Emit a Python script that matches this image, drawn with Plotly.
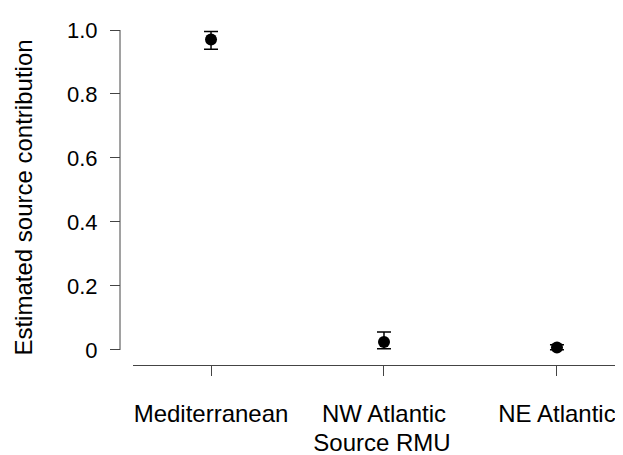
import plotly.graph_objects as go

categories = ["Mediterranean", "NW Atlantic", "NE Atlantic"]
x_pos = [0, 1, 2]
estimates = [0.970, 0.025, 0.008]
upper = [0.995, 0.056, 0.016]
lower = [0.940, 0.004, 0.001]
y_tick_vals = [0, 0.2, 0.4, 0.6, 0.8, 1.0]
y_tick_text = ["0", "0.2", "0.4", "0.6", "0.8", "1.0"]

err_plus = [u - e for u, e in zip(upper, estimates)]
err_minus = [e - l for e, l in zip(estimates, lower)]

FONT = "Liberation Sans, Arial, sans-serif"

fig = go.Figure()
fig.add_trace(go.Scatter(
    x=x_pos, y=estimates, mode="markers",
    marker=dict(color="black", size=12),
    error_y=dict(type="data", symmetric=False, array=err_plus, arrayminus=err_minus,
                 color="black", thickness=1.5, width=7),
    showlegend=False,
))

fig.update_layout(
    width=623, height=455,
    margin=dict(l=112, r=0, t=22, b=98),
    plot_bgcolor="white", paper_bgcolor="white",
    font=dict(family=FONT, color="black", size=22),
    xaxis=dict(
        domain=[13 / 511, 1], range=[-0.451, 2.428],
        tickvals=x_pos, ticktext=categories,
        showline=True, linecolor="#444", linewidth=1,
        ticks="outside", ticklen=10, tickcolor="#444", tickwidth=1,
        showgrid=False, zeroline=False,
        tickfont=dict(size=24), ticklabelstandoff=17,
        title=dict(text="Source RMU", font=dict(size=24), standoff=8),
    ),
    yaxis=dict(
        anchor="free", position=0, range=[-0.047, 1.0],
        tickvals=y_tick_vals, ticktext=y_tick_text,
        showline=False,
        ticks="outside", ticklen=10, tickcolor="#444", tickwidth=1,
        showgrid=False, zeroline=False,
        tickfont=dict(size=22), ticklabelstandoff=8,
        title=dict(text="Estimated source contribution", font=dict(size=24), standoff=26),
    ),
    shapes=[dict(type="line", xref="paper", yref="y", x0=0, x1=0, y0=0, y1=1,
                 line=dict(color="#444", width=1))],
)

fig.write_html("out.html")
